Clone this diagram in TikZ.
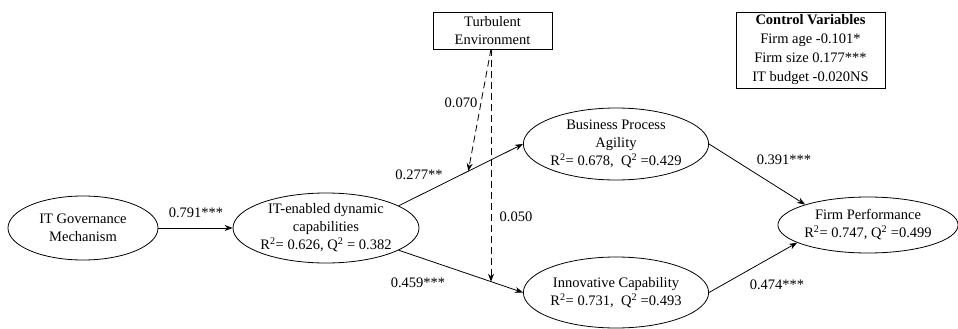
\documentclass[tikz,border=0pt]{standalone}
\usepackage{fontspec}
\setmainfont{Liberation Serif}
\usetikzlibrary{shapes.geometric,arrows.meta,calc}
\begin{document}
\begin{tikzpicture}[x=1pt,y=-1pt,
  every node/.style={font=\fontsize{14.5}{18}\selectfont},
  oval/.style={ellipse,draw,line width=0.8pt,inner sep=0pt,align=center},
  boxed/.style={draw,line width=0.8pt,inner sep=0pt,align=center},
  arr/.style={line width=0.8pt,-{Stealth[length=8pt,width=6pt]}},
  darr/.style={line width=0.8pt,dash pattern=on 7pt off 4pt,-{Stealth[length=8pt,width=6pt]}},
  lbl/.style={inner sep=0pt}]
\useasboundingbox (0,0) rectangle (958,329);
\node[oval,minimum width=150pt,minimum height=64pt] (itg) at (83,228) {IT Governance\\Mechanism};
\node[oval,minimum width=186pt,minimum height=70pt] (itd) at (326,228) {IT-enabled dynamic\\capabilities\\R\textsuperscript{2}= 0.626, Q\textsuperscript{2} = 0.382};
\node[oval,minimum width=183pt,minimum height=72pt] (bpa) at (616,144) {Business Process\\Agility\\R\textsuperscript{2}= 0.678,\ \ Q\textsuperscript{2} =0.429};
\node[oval,minimum width=183pt,minimum height=71pt] (ic) at (616,292.5) {Innovative Capability\\R\textsuperscript{2}= 0.731,\ \ Q\textsuperscript{2} =0.493};
\node[oval,minimum width=178pt,minimum height=56pt] (fp) at (868,225) {Firm Performance\\R\textsuperscript{2}= 0.747, Q\textsuperscript{2} =0.499};
\node[boxed,minimum width=119pt,minimum height=37pt] (te) at (492.5,30.5) {Turbulent\\Environment};
\node[boxed,minimum width=149pt,minimum height=76pt,font=\fontsize{14.5}{19}\selectfont] (cv) at (810.5,50) {\textbf{Control Variables}\\Firm age -0.101*\\Firm size 0.177***\\IT budget -0.020NS};
\draw[arr] (itg) -- (itd);
\draw[arr] (itd.17) -- (bpa.west);
\draw[arr] (itd.-17) -- (ic.west);
\draw[arr] (bpa.east) -- (fp.162);
\draw[arr] (ic.east) -- (fp.194);
\coordinate (ts) at (491,49);
\coordinate (m1) at ($(itd.17)!0.56!(bpa.west)$);
\coordinate (m2) at ($(itd.-17)!0.745!(ic.west)$);
\draw[darr] (ts) -- (m1);
\draw[darr] (ts) -- (ts |- m2);
\node[lbl] (l1) at (196,213) {0.791***};
\node[lbl] (l2) at (419,175) {0.277**};
\node[lbl] (l3) at (461,103) {0.070};
\node[lbl] (l4) at (516,217) {0.050};
\node[lbl] (l5) at (418,283) {0.459***};
\node[lbl] (l6) at (784,160) {0.391***};
\node[lbl] (l7) at (777,285) {0.474***};
\end{tikzpicture}
\end{document}
